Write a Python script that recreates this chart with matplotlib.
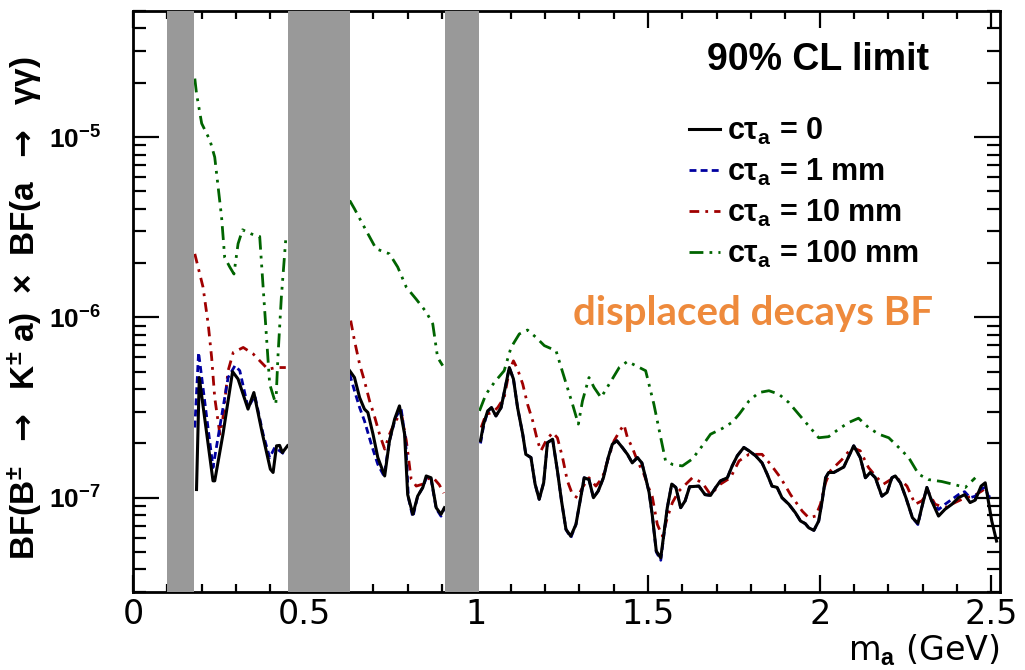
import numpy as np
import matplotlib
matplotlib.use('Agg')
import matplotlib.pyplot as plt
from matplotlib.ticker import FixedLocator, FixedFormatter, MultipleLocator, LogLocator, NullFormatter

plt.rcParams['font.family'] = ['Liberation Sans', 'DejaVu Sans']
plt.rcParams['mathtext.fontset'] = 'custom'
plt.rcParams['mathtext.rm'] = 'Liberation Sans:bold'
plt.rcParams['mathtext.bf'] = 'Liberation Sans:bold'
plt.rcParams['mathtext.it'] = 'Liberation Sans:bold'
plt.rcParams['mathtext.sf'] = 'DejaVu Sans:bold'
plt.rcParams['mathtext.default'] = 'bf'

# vetoed mass windows (pi0, eta, eta')
veto_lo = [0.100, 0.450, 0.910]
veto_hi = [0.178, 0.631, 1.009]

# --- c tau = 0 (units of 1e-7)
m_ct0 = [
    [0.185, 0.193, 0.233, 0.238, 0.262, 0.290, 0.306, 0.335, 0.352, 0.376, 0.400, 0.408, 0.418, 0.427, 0.435, 0.450],
    [0.631, 0.645, 0.660, 0.674, 0.684, 0.699, 0.713, 0.733, 0.747, 0.762, 0.776, 0.791, 0.800, 0.815, 0.829, 0.844,
     0.854, 0.868, 0.883, 0.897, 0.907],
    [1.012, 1.021, 1.033, 1.044, 1.057, 1.072, 1.083, 1.096, 1.108, 1.120, 1.135, 1.144, 1.159, 1.171, 1.183, 1.196,
     1.207, 1.222, 1.236, 1.248, 1.261, 1.275, 1.290, 1.302, 1.314, 1.328, 1.341, 1.355, 1.370, 1.384, 1.396, 1.409,
     1.425, 1.440, 1.454, 1.469, 1.482, 1.493, 1.503, 1.512, 1.524, 1.537, 1.556, 1.569, 1.581, 1.595, 1.608, 1.621,
     1.648, 1.666, 1.682, 1.697, 1.711, 1.731, 1.745, 1.760, 1.779, 1.794, 1.813, 1.832, 1.847, 1.861, 1.876, 1.890,
     1.910, 1.929, 1.944, 1.958, 1.968, 1.983, 1.997, 2.007, 2.017, 2.026, 2.041, 2.070, 2.099, 2.118, 2.133, 2.147,
     2.162, 2.181, 2.196, 2.210, 2.220, 2.235, 2.251, 2.270, 2.286, 2.297, 2.312, 2.326, 2.346, 2.365, 2.385, 2.404,
     2.422, 2.438, 2.453, 2.470, 2.482, 2.491, 2.501, 2.515],
]
bf_ct0 = [
    [1.11, 4.64, 1.24, 1.24, 2.25, 5.00, 4.55, 3.10, 3.83, 2.30, 1.44, 1.38, 1.94, 1.95, 1.78, 1.94],
    [5.06, 4.64, 3.59, 3.10, 2.97, 2.25, 1.67, 1.32, 2.07, 2.73, 3.23, 2.25, 1.04, 0.809, 1.02, 1.14,
     1.32, 1.29, 0.88, 0.809, 0.88],
    [2.07, 2.56, 3.03, 3.16, 2.84, 3.16, 4.00, 5.27, 4.55, 3.16, 2.25, 1.74, 1.67, 1.19, 0.98, 1.21,
     2.02, 2.11, 1.41, 0.96, 0.667, 0.612, 0.711, 0.96, 1.29, 1.26, 1.00, 1.09, 1.29, 1.67, 1.98, 2.07,
     1.90, 1.74, 1.56, 1.67, 1.56, 1.29, 1.07, 0.809, 0.506, 0.464, 0.88, 1.19, 1.14, 0.88, 0.96, 1.15,
     1.16, 1.04, 1.03, 1.14, 1.24, 1.29, 1.50, 1.71, 1.90, 1.82, 1.71, 1.56, 1.35, 1.16, 1.14, 1.00,
     0.92, 0.826, 0.743, 0.718, 0.681, 0.659, 0.743, 0.96, 1.29, 1.38, 1.38, 1.48, 1.94, 1.67, 1.29, 1.38,
     1.29, 1.02, 1.07, 1.29, 1.32, 1.21, 1.00, 0.774, 0.721, 0.88, 1.14, 0.96, 0.791, 0.863, 0.92, 1.00,
     1.04, 0.94, 0.97, 1.16, 1.21, 0.96, 0.743, 0.575],
]

# --- c tau = 1 mm
m_ct1 = [
    [0.180, 0.191, 0.233, 0.277, 0.297, 0.311, 0.335, 0.355, 0.379, 0.398, 0.413, 0.427, 0.447],
    [0.631, 0.645, 0.660, 0.674, 0.694, 0.713, 0.731, 0.747, 0.765, 0.781, 0.794, 0.802, 0.815, 0.829, 0.844, 0.855,
     0.868, 0.883, 0.897, 0.907],
    [1.012, 1.021, 1.033, 1.044, 1.057, 1.072, 1.083, 1.096, 1.108, 1.120, 1.135, 1.144, 1.159, 1.171, 1.183, 1.196,
     1.207, 1.222, 1.236, 1.248, 1.261, 1.275, 1.290, 1.302, 1.314, 1.328, 1.341, 1.355, 1.370, 1.384, 1.396, 1.409,
     1.425, 1.440, 1.454, 1.469, 1.482, 1.493, 1.503, 1.512, 1.524, 1.537, 1.556, 1.569, 1.581, 1.595, 1.608, 1.621,
     1.648, 1.666, 1.682, 1.697, 1.711, 1.731, 1.745, 1.760, 1.779, 1.794, 1.813, 1.832, 1.847, 1.861, 1.876, 1.890,
     1.910, 1.929, 1.944, 1.958, 1.968, 1.983, 1.997, 2.007, 2.017, 2.026, 2.041, 2.070, 2.099, 2.118, 2.133, 2.147,
     2.162, 2.181, 2.196, 2.210, 2.220, 2.235, 2.251, 2.270, 2.286, 2.297, 2.312, 2.326, 2.346, 2.365, 2.385, 2.404,
     2.422, 2.438, 2.453, 2.470, 2.482, 2.491, 2.501],
]
bf_ct1 = [
    [2.45, 6.39, 1.47, 4.64, 5.40, 5.06, 3.16, 3.67, 2.25, 1.67, 1.90, 1.82, 1.71],
    [4.85, 3.92, 3.16, 2.67, 1.98, 1.53, 1.32, 2.07, 2.80, 3.10, 2.07, 1.00, 0.78, 1.02, 1.14, 1.30,
     1.27, 0.87, 0.79, 0.88],
    [2.00, 2.50, 3.00, 3.16, 2.84, 3.16, 4.00, 5.27, 4.55, 3.16, 2.25, 1.74, 1.67, 1.19, 0.98, 1.21,
     2.02, 2.11, 1.41, 0.96, 0.667, 0.600, 0.711, 0.96, 1.29, 1.26, 1.00, 1.09, 1.29, 1.67, 1.98, 2.07,
     1.90, 1.74, 1.56, 1.67, 1.56, 1.29, 1.07, 0.809, 0.500, 0.450, 0.88, 1.19, 1.14, 0.88, 0.96, 1.15,
     1.16, 1.04, 1.03, 1.14, 1.24, 1.29, 1.50, 1.71, 1.90, 1.82, 1.71, 1.56, 1.35, 1.16, 1.14, 1.00,
     0.92, 0.826, 0.743, 0.718, 0.681, 0.659, 0.743, 0.96, 1.29, 1.38, 1.38, 1.48, 1.94, 1.67, 1.29, 1.38,
     1.29, 1.02, 1.07, 1.29, 1.32, 1.21, 1.00, 0.774, 0.710, 0.88, 1.14, 0.96, 0.86, 0.92, 0.98, 1.04,
     1.08, 1.00, 1.02, 1.12, 1.14, 1.02, 1.00],
]

# --- c tau = 10 mm
m_ct10 = [
    [0.180, 0.204, 0.219, 0.229, 0.238, 0.253, 0.262, 0.277, 0.292, 0.321, 0.350, 0.374, 0.393, 0.418, 0.445],
    [0.634, 0.645, 0.660, 0.674, 0.689, 0.703, 0.718, 0.733, 0.747, 0.762, 0.781, 0.796, 0.810, 0.825, 0.844, 0.858,
     0.873, 0.892, 0.905],
    [1.014, 1.028, 1.047, 1.062, 1.081, 1.096, 1.108, 1.120, 1.135, 1.149, 1.164, 1.178, 1.188, 1.203, 1.222, 1.236,
     1.251, 1.265, 1.280, 1.294, 1.309, 1.328, 1.348, 1.367, 1.382, 1.401, 1.421, 1.430, 1.440, 1.454, 1.469, 1.488,
     1.503, 1.512, 1.527, 1.542, 1.556, 1.571, 1.590, 1.629, 1.658, 1.682, 1.711, 1.740, 1.765, 1.794, 1.832, 1.857,
     1.886, 1.915, 1.949, 1.968, 1.988, 2.002, 2.017, 2.031, 2.065, 2.094, 2.118, 2.142, 2.167, 2.186, 2.215, 2.239,
     2.254, 2.278, 2.297, 2.317, 2.336, 2.365, 2.394, 2.424, 2.448, 2.472, 2.486],
]
bf_ct10 = [
    [22.5, 14.7, 9.18, 6.00, 3.59, 2.25, 2.78, 5.06, 6.39, 6.81, 6.27, 5.62, 5.16, 5.27, 5.27],
    [9.60, 7.43, 5.50, 4.45, 3.44, 2.84, 2.25, 1.86, 2.25, 2.61, 2.97, 2.07, 1.27, 1.16, 1.19, 1.27,
     1.30, 1.18, 1.06],
    [2.45, 2.90, 2.97, 3.16, 3.59, 5.06, 5.74, 5.16, 4.27, 3.30, 2.67, 2.07, 1.82, 2.07, 2.30, 2.15,
     1.67, 1.24, 1.04, 1.00, 1.14, 1.29, 1.16, 1.29, 1.60, 2.07, 2.40, 2.54, 2.15, 1.90, 1.60, 1.35,
     1.12, 1.02, 0.711, 0.612, 0.774, 0.94, 1.09, 1.29, 1.21, 1.04, 1.19, 1.29, 1.60, 1.74, 1.74, 1.53,
     1.29, 1.04, 0.843, 0.774, 0.791, 0.92, 1.21, 1.41, 1.63, 1.90, 1.82, 1.47, 1.29, 1.19, 1.29, 1.24,
     1.16, 0.92, 0.96, 1.07, 0.92, 0.88, 0.94, 1.00, 1.02, 1.09, 1.14],
]

# --- c tau = 100 mm
m_ct100 = [
    [0.180, 0.185, 0.200, 0.224, 0.238, 0.248, 0.258, 0.267, 0.282, 0.294, 0.306, 0.319, 0.345, 0.369, 0.379, 0.398,
     0.416, 0.422, 0.432, 0.445],
    [0.631, 0.645, 0.679, 0.708, 0.747, 0.771, 0.796, 0.825, 0.854, 0.873, 0.887, 0.902],
    [1.009, 1.028, 1.052, 1.081, 1.101, 1.125, 1.149, 1.174, 1.198, 1.232, 1.256, 1.280, 1.297, 1.309, 1.328, 1.343,
     1.363, 1.387, 1.416, 1.440, 1.464, 1.493, 1.517, 1.537, 1.551, 1.571, 1.600, 1.629, 1.658, 1.682, 1.716, 1.745,
     1.765, 1.794, 1.823, 1.852, 1.881, 1.910, 1.939, 1.968, 1.997, 2.026, 2.055, 2.084, 2.113, 2.142, 2.172, 2.201,
     2.230, 2.259, 2.288, 2.317, 2.355, 2.394, 2.424, 2.453],
]
bf_ct100 = [
    [211.0, 174.0, 119.0, 96.0, 77.4, 52.7, 35.9, 21.5, 19.0, 17.4, 25.6, 30.6, 29.0, 28.1, 14.7, 4.27,
     3.30, 6.00, 12.9, 27.3],
    [44.5, 40.0, 30.3, 24.0, 22.5, 19.0, 14.7, 12.6, 10.7, 9.2, 6.0, 5.4],
    [3.03, 3.75, 4.35, 5.06, 6.81, 8.09, 8.51, 7.74, 6.97, 6.53, 4.64, 3.30, 2.56, 3.44, 4.64, 4.08,
     3.59, 4.27, 5.27, 5.70, 5.40, 5.06, 3.30, 2.15, 1.60, 1.53, 1.50, 1.64, 1.94, 2.25, 2.42, 2.62,
     2.90, 3.44, 3.83, 3.92, 3.75, 3.37, 2.90, 2.50, 2.15, 2.18, 2.40, 2.61, 2.76, 2.45, 2.25, 2.15,
     1.90, 1.67, 1.35, 1.26, 1.23, 1.18, 1.14, 1.29],
]

x_ticks = [0, 0.5, 1, 1.5, 2, 2.5]
x_ticklabels = ['0', '0.5', '1', '1.5', '2', '2.5']
y_ticks = [1e-7, 1e-6, 1e-5]
y_ticklabels = [r'$10^{-7}$', r'$10^{-6}$', r'$10^{-5}$']


def join(segs):
    # glue the mass segments together with NaN so the vetoed windows stay empty
    out = []
    for s in segs:
        out.extend(s)
        out.append(np.nan)
    return np.array(out[:-1])


fig = plt.figure(figsize=(10.25, 6.7), dpi=100)
ax = fig.add_axes([133 / 1025, 1 - 592 / 670, 867 / 1025, 581 / 670])

ax.plot(join(m_ct100), join(bf_ct100) * 1e-7, color='#006400', lw=2.0,
        dashes=(5, 2.2, 1, 2.2, 1, 2.2), label=r'c$\tau_a$ = 100 mm')
ax.plot(join(m_ct10), join(bf_ct10) * 1e-7, color='#A00000', lw=2.0,
        dashes=(3.5, 2.2, 1, 2.2), label=r'c$\tau_a$ = 10 mm')
ax.plot(join(m_ct1), join(bf_ct1) * 1e-7, color='#0000A0', lw=2.0,
        dashes=(2.5, 1.5), label=r'c$\tau_a$ = 1 mm')
ax.plot(join(m_ct0), join(bf_ct0) * 1e-7, color='black', lw=2.2,
        label=r'c$\tau_a$ = 0')

for lo, hi in zip(veto_lo, veto_hi):
    ax.axvspan(lo, hi, color='#999999', lw=0, zorder=5)

ax.set_yscale('log')
ax.set_xlim(0, 2.525)
ax.set_ylim(3e-8, 5e-5)

ax.xaxis.set_major_locator(FixedLocator(x_ticks))
ax.xaxis.set_major_formatter(FixedFormatter(x_ticklabels))
ax.xaxis.set_minor_locator(MultipleLocator(0.1))
ax.yaxis.set_major_locator(FixedLocator(y_ticks))
ax.yaxis.set_major_formatter(FixedFormatter(y_ticklabels))
ax.yaxis.set_minor_locator(LogLocator(base=10, subs=np.arange(2, 10)))
ax.yaxis.set_minor_formatter(NullFormatter())

ax.tick_params(which='both', direction='in', top=True, right=True, width=1.6)
ax.tick_params(axis='x', which='major', length=12, pad=4, labelsize=24,
               labelfontfamily='Liberation Sans Narrow')
ax.tick_params(axis='x', which='minor', length=6)
ax.tick_params(axis='y', which='major', length=19, pad=23, labelsize=19)
ax.tick_params(axis='y', which='minor', length=9.5)
for sp in ax.spines.values():
    sp.set_linewidth(2.0)

fig.text(25 / 1025, 1 - 308 / 670,
         r'BF(B$^{\pm}$  $\mathsf{\rightarrow}$  K$^{\pm}$ a)  $\times$  BF(a  $\mathsf{\rightarrow}$  $\gamma\gamma$)',
         rotation=90, ha='center', va='center', fontsize=24, fontweight='bold')
fig.text(1000 / 1025, 1 - 650 / 670, r'm$_{\mathrm{a}}$ (GeV)', ha='right', va='center',
         fontsize=24, family='Liberation Sans Narrow')

ax.text(818 / 1025, 1 - 60 / 670, '90% CL limit', transform=fig.transFigure,
        ha='center', va='center', fontsize=27, fontweight='bold')
ax.text(753 / 1025, 1 - 313 / 670, 'displaced decays BF', transform=fig.transFigure,
        ha='center', va='center', fontsize=29, fontweight='bold', family='Lato', color='#EE8A3C')

handles, labels = ax.get_legend_handles_labels()
leg = ax.legend(handles[::-1], labels[::-1], loc='upper left',
                bbox_to_anchor=(689 / 1025, 1 - 116 / 670), bbox_transform=fig.transFigure,
                frameon=False, fontsize=22, handlelength=1.0, handletextpad=0.25,
                labelspacing=0.32, borderpad=0, borderaxespad=0)
for t in leg.get_texts():
    t.set_fontweight('bold')

fig.savefig('out.png', dpi=100)
